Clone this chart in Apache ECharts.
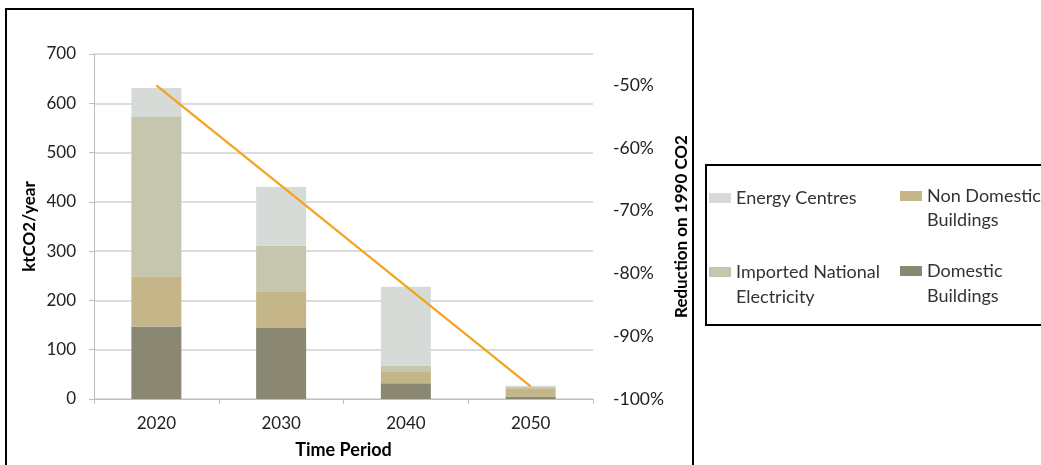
<!DOCTYPE html>
<html>
<head>
<meta charset="utf-8">
<script src="https://cdn.jsdelivr.net/npm/echarts@6/dist/echarts.min.js"></script>
<style>html,body{margin:0;padding:0;background:#fff}#c{width:1041px;height:465px}</style>
</head>
<body>
<div id="c"></div>
<script>
const categories = ['2020', '2030', '2040', '2050'];
const domestic = [147, 144, 32, 5];
const nonDomestic = [102, 73, 23, 17];
const imported = [323, 94, 13, 3];
const energyCentres = [59, 119, 160, 2];
const reduction = [-0.50, -0.66, -0.82, -0.98];
const leftTicks = { min: 0, max: 700, interval: 100 };
const rightTicks = { min: -1, max: -0.45, interval: 0.1 };

const FONT = 'Lato';
const chart = echarts.init(document.getElementById('c'));
const legendText = { fontFamily: FONT, fontSize: 18, color: '#333' };
const legendBase = {
  orient: 'horizontal', itemWidth: 22, itemHeight: 10, itemGap: 4,
  icon: 'rect', selectedMode: false, padding: 0,
  textStyle: legendText
};
const firstLine = {
  'Energy Centres': 'Energy Centres',
  'Non Domestic Buildings': 'Non Domestic',
  'Imported National Electricity': 'Imported National',
  'Domestic Buildings': 'Domestic'
};
const fmt = n => firstLine[n] || n;
function lineText(x, y, t) {
  return { type: 'text', left: x, top: y - 8, style: { text: t, fontFamily: FONT, fontSize: 18, fill: '#333' } };
}
chart.setOption({
  animation: false,
  textStyle: { fontFamily: FONT },
  grid: { left: 94, right: 448, top: 54, bottom: 66 },
  graphic: [
    { type: 'rect', shape: { x: 6, y: 9, width: 687, height: 470 }, style: { fill: 'none', stroke: '#000', lineWidth: 2 } },
    { type: 'rect', shape: { x: 706, y: 165, width: 345, height: 160 }, style: { fill: 'none', stroke: '#000', lineWidth: 2 } },
    lineText(927, 219, 'Buildings'),
    lineText(736, 296, 'Electricity'),
    lineText(927, 295, 'Buildings')
  ],
  legend: [
    Object.assign({}, legendBase, { left: 709, top: 189, data: ['Energy Centres'], formatter: fmt }),
    Object.assign({}, legendBase, { left: 900, top: 187, data: ['Non Domestic Buildings'], formatter: fmt }),
    Object.assign({}, legendBase, { left: 709, top: 263, data: ['Imported National Electricity'], formatter: fmt }),
    Object.assign({}, legendBase, { left: 900, top: 262, data: ['Domestic Buildings'], formatter: fmt })
  ],
  xAxis: {
    type: 'category', data: categories,
    name: 'Time Period', nameLocation: 'middle', nameGap: 42,
    nameTextStyle: { fontFamily: FONT, fontSize: 18, fontWeight: 'bold', color: '#000' },
    axisLine: { lineStyle: { color: '#bfbfbf', width: 1 } },
    axisTick: { show: true, length: 5, lineStyle: { color: '#bfbfbf' } },
    axisLabel: { fontFamily: FONT, fontSize: 17, color: '#222', margin: 16 }
  },
  yAxis: [
    {
      type: 'value', min: leftTicks.min, max: leftTicks.max, interval: leftTicks.interval,
      name: 'ktCO2/year', nameLocation: 'middle', nameGap: 56, nameRotate: 90,
      nameTextStyle: { fontFamily: FONT, fontSize: 17, fontWeight: 'bold', color: '#000' },
      axisLine: { show: true, lineStyle: { color: '#bfbfbf' } },
      axisTick: { show: true, length: 5, lineStyle: { color: '#bfbfbf' } },
      axisLabel: { fontFamily: FONT, fontSize: 17, color: '#222', margin: 18 },
      splitLine: { show: true, lineStyle: { color: '#d0d0d0', width: 1.5 } }
    },
    {
      type: 'value', min: rightTicks.min, max: rightTicks.max, interval: rightTicks.interval,
      position: 'right',
      name: 'Reduction on 1990 CO2', nameLocation: 'middle', nameGap: 80, nameRotate: 90,
      nameTextStyle: { fontFamily: FONT, fontSize: 17, fontWeight: 'bold', color: '#000' },
      axisLine: { show: false }, axisTick: { show: false }, splitLine: { show: false },
      axisLabel: {
        fontFamily: FONT, fontSize: 17.5, color: '#222', margin: 20, showMaxLabel: false,
        formatter: v => { const p = Math.round(v * 100); return (p % 10 === 0) ? p + '%' : ''; }
      }
    }
  ],
  series: [
    { name: 'Domestic Buildings', type: 'bar', stack: 's', barWidth: 50, data: domestic, itemStyle: { color: '#8a8872' } },
    { name: 'Non Domestic Buildings', type: 'bar', stack: 's', barWidth: 50, data: nonDomestic, itemStyle: { color: '#c4b689' } },
    { name: 'Imported National Electricity', type: 'bar', stack: 's', barWidth: 50, data: imported, itemStyle: { color: '#c6c5ae' } },
    { name: 'Energy Centres', type: 'bar', stack: 's', barWidth: 50, data: energyCentres, itemStyle: { color: '#d6dbd8' } },
    { name: 'Reduction', type: 'line', yAxisIndex: 1, data: reduction, showSymbol: false, symbol: 'none',
      lineStyle: { color: '#f5a21d', width: 2.2 }, itemStyle: { color: '#f5a21d' } }
  ]
});
</script>
</body>
</html>
